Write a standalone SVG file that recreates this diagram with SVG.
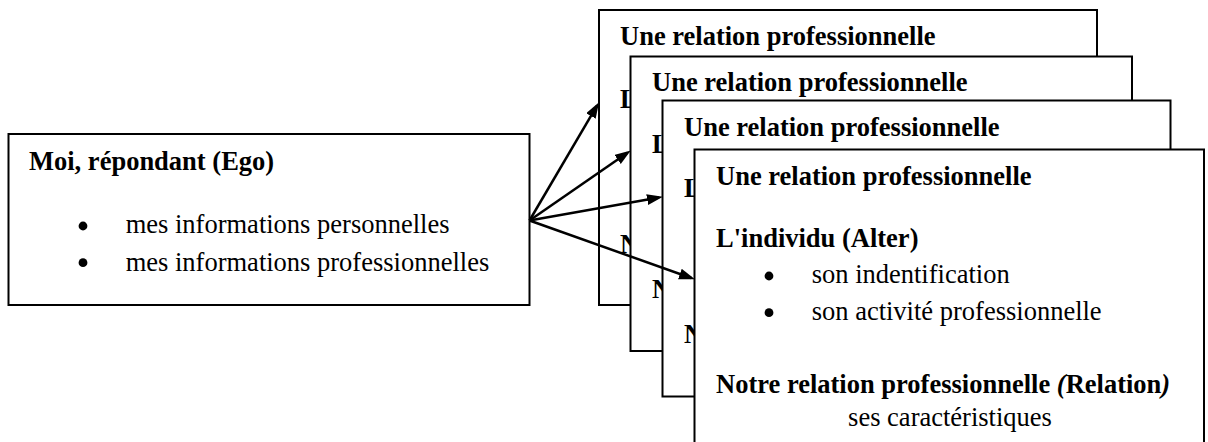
<svg xmlns="http://www.w3.org/2000/svg" width="1208" height="442" viewBox="0 0 1208 442">
  <style>
    .box { fill: #ffffff; stroke: #000000; stroke-width: 2; }
    .t { font-family: "Liberation Serif", "Times New Roman", serif; font-size: 26.5px; fill: #000000; }
    .b { font-weight: bold; }
    .it { font-style: italic; }
    .mid { text-anchor: middle; }
    .conn { stroke: #000000; stroke-width: 2.5; fill: none; marker-end: url(#arrow); }
  </style>
  <defs>
    <marker id="arrow" markerUnits="userSpaceOnUse" markerWidth="17" markerHeight="13" refX="12" refY="5.5" orient="auto">
      <path d="M0,0 L16,5.5 L0,11 z" fill="#000000"/>
    </marker>
    <circle id="dot" r="4.4" fill="#000000"/>
  </defs>
  <rect width="1208" height="442" fill="#ffffff"/>

  <g id="ego">
    <rect class="box" x="8.5" y="134" width="521" height="171"/>
    <text class="t b" x="29" y="170">Moi, répondant (Ego)</text>
    <use href="#dot" x="83" y="226"/>
    <text class="t" x="125.7" y="233">mes informations personnelles</text>
    <use href="#dot" x="83" y="262.7"/>
    <text class="t" x="125.7" y="270.5">mes informations professionnelles</text>
  </g>

  <g id="relation1">
    <rect class="box" x="599" y="10" width="498" height="295"/>
    <text class="t b" x="620" y="45">Une relation professionnelle</text>
    <text class="t b" x="620" y="108">L</text>
    <text class="t b" x="620" y="253">N</text>
  </g>

  <g id="relation2">
    <rect class="box" x="630.5" y="56.5" width="501.5" height="294.5"/>
    <text class="t b" x="652" y="90.5">Une relation professionnelle</text>
    <text class="t b" x="652" y="153">L</text>
    <text class="t b" x="652" y="298">N</text>
  </g>

  <g id="relation3">
    <rect class="box" x="662.5" y="100.5" width="508" height="296"/>
    <text class="t b" x="684" y="135.5">Une relation professionnelle</text>
    <text class="t b" x="684" y="197">L</text>
    <text class="t b" x="684" y="343">N</text>
  </g>

  <g id="relation4">
    <rect class="box" x="694.5" y="149.5" width="509.5" height="300"/>
    <text class="t b" x="716" y="184.5">Une relation professionnelle</text>
    <text class="t b" x="716" y="246.5">L'individu (Alter)</text>
    <use href="#dot" x="769" y="276"/>
    <text class="t" x="811.7" y="283.3">son indentification</text>
    <use href="#dot" x="769" y="312.7"/>
    <text class="t" x="811.7" y="320">son activité professionnelle</text>
    <text class="t b" x="716" y="393">Notre relation professionnelle <tspan class="it">(</tspan>Relation<tspan class="it">)</tspan></text>
    <text class="t mid" x="950" y="426">ses caractéristiques</text>
  </g>

  <g id="connectors">
    <line class="conn" x1="529.5" y1="220.5" x2="597" y2="105.6"/>
    <line class="conn" x1="529.5" y1="220.5" x2="627.5" y2="152.7"/>
    <line class="conn" x1="529.5" y1="220.5" x2="659" y2="197.5"/>
    <line class="conn" x1="529.5" y1="220.5" x2="691.2" y2="278"/>
  </g>
</svg>
